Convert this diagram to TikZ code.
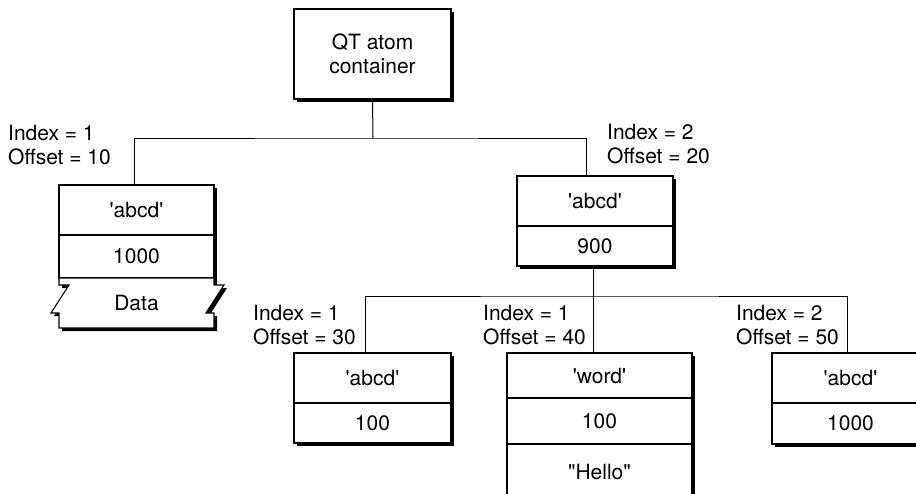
\documentclass[tikz,border=0pt]{standalone}
\usepackage{fontspec}
\newfontfamily\heros{TeX Gyre Heros}
\usetikzlibrary{positioning,shadows}

\begin{document}
\begin{tikzpicture}[x=1pt,y=-1pt,
    font=\heros\fontsize{21}{24}\selectfont,
    boxshadow/.style={drop shadow={shadow xshift=3pt,shadow yshift=-3pt,fill=black,opacity=1}},
    cell/.style={draw,fill=white,line width=1.1pt,inner sep=0pt,outer sep=0pt,
      anchor=north west,boxshadow},
    tag/.style={anchor=west,align=left,inner sep=0pt},
    wire/.style={line width=1pt}]
    %% QT atom container tree

    % Page
    \useasboundingbox (0,0) rectangle (916,493);
    \clip (0,0) rectangle (916,493);

    % Root
    \node[cell,minimum width=157pt,minimum height=90pt,align=center]
    (root) at (294,9) {QT atom\\container};

    % Level 1, left atom
    \node[cell,minimum width=155pt,minimum height=50pt] (abcdA) at (59,185) {'abcd'};
    \node[cell,minimum width=155pt,minimum height=43pt,below=0pt of abcdA] (sizeA) {1000};
    \filldraw[fill=white,line width=1.1pt,boxshadow]
    (sizeA.south west)
    -- (sizeA.south east)
    -- ++(0,7) -- ++(10,0) -- ++(-18,28) -- ++(8,0) -- ++(0,15)
    -- ++(-155,0)
    -- ++(0,-15) -- ++(-8,0) -- ++(18,-28) -- ++(-10,0) -- cycle;
    \node[below=0pt of sizeA,minimum width=155pt,minimum height=50pt,inner sep=0pt]
    (dataA) {Data};

    % Level 1, right atom
    \node[cell,minimum width=156pt,minimum height=50pt] (abcdB) at (517,176) {'abcd'};
    \node[cell,minimum width=156pt,minimum height=40pt,below=0pt of abcdB] (sizeB) {900};

    % Level 2 atoms
    \node[cell,minimum width=157pt,minimum height=50pt] (abcdC) at (294,353) {'abcd'};
    \node[cell,minimum width=157pt,minimum height=40pt,below=0pt of abcdC] (sizeC) {100};

    \node[cell,minimum width=185pt,minimum height=45pt] (wordD) at (507,353) {'word'};
    \node[cell,minimum width=185pt,minimum height=46pt,below=0pt of wordD] (sizeD) {100};
    \node[cell,minimum width=185pt,minimum height=56pt,below=0pt of sizeD] (helloD) {"Hello"};

    \node[cell,minimum width=157pt,minimum height=50pt] (abcdE) at (772,353) {'abcd'};
    \node[cell,minimum width=157pt,minimum height=41pt,below=0pt of abcdE] (sizeE) {1000};

    % Wires
    \coordinate (busA) at (373,138);
    \coordinate (busB) at (593,296);

    \draw[wire] (root.south) -- (busA);
    \draw[wire] ([xshift=-2.5pt]abcdA.north) |- (busA) -| ([xshift=-9pt]abcdB.north);

    \draw[wire] ([xshift=-2pt]sizeB.south) -- ([xshift=-6.5pt]wordD.north);
    \draw[wire] ([xshift=-7.5pt]abcdC.north) |- (busB) -| ([xshift=-3.5pt]abcdE.north);

    % Labels
    \node[tag] (tagA) at (8,145) {Index = 1\\Offset = 10};
    \node[tag] (tagB) at (607,144) {Index = 2\\Offset = 20};
    \node[tag] (tagC) at (253,325) {Index = 1\\Offset = 30};
    \node[tag] (tagD) at (483,325) {Index = 1\\Offset = 40};
    \node[tag] (tagE) at (736,325) {Index = 2\\Offset = 50};

\end{tikzpicture}
\end{document}
